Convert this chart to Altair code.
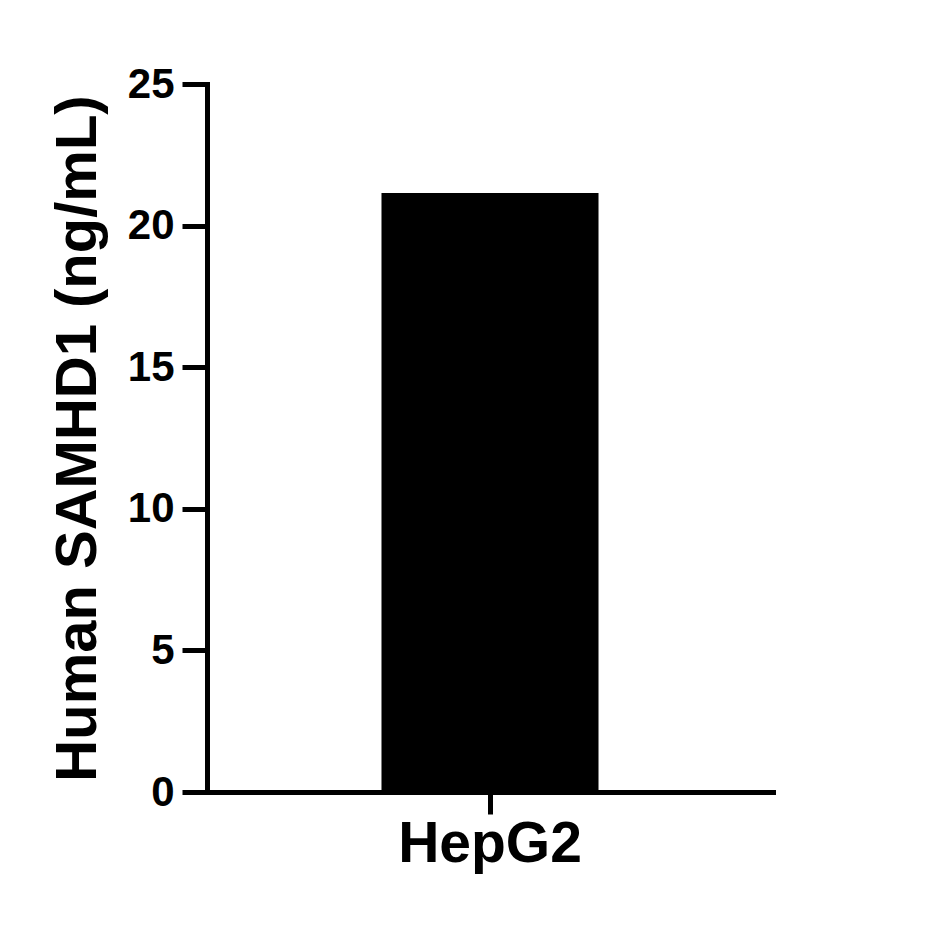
import altair as alt
import pandas as pd

categories = ["HepG2"]
values = [21.15]
y_ticks = [0, 5, 10, 15, 20, 25]

df = pd.DataFrame({"cell": categories, "conc": values})

FONT = "Liberation Sans"

chart = alt.Chart(df).mark_bar(color="black").encode(
    x=alt.X("cell:N", title=None,
            scale=alt.Scale(paddingInner=0, paddingOuter=0.804),
            axis=alt.Axis(labelAngle=0, labelFontSize=57, labelFont=FONT, labelFontWeight="bold",
                          labelColor="black", domainColor="black", domainWidth=5, tickColor="black",
                          tickWidth=5, tickSize=22, labelPadding=2, labelLimit=0, domainCap="square")),
    y=alt.Y("conc:Q", title="Human SAMHD1 (ng/mL)",
            scale=alt.Scale(domain=[0, 25], nice=False, zero=True),
            axis=alt.Axis(values=y_ticks, grid=False, labelFontSize=42, labelFont=FONT,
                          labelFontWeight="bold", labelColor="black", domainColor="black",
                          domainWidth=5, tickColor="black", tickWidth=5, tickSize=25,
                          labelPadding=8, titleFontSize=58, titleFont=FONT, titleFontWeight="bold",
                          titleColor="black", titlePadding=20, domainCap="square")),
).properties(
    width=566, height=708,
    background="white",
    autosize=alt.AutoSizeParams(type="none"),
    padding={"left": 199, "top": 76, "right": 170, "bottom": 120},
).configure_view(stroke=None, strokeWidth=0)

chart.save("out.html", embed_options={"renderer": "svg", "actions": False})
